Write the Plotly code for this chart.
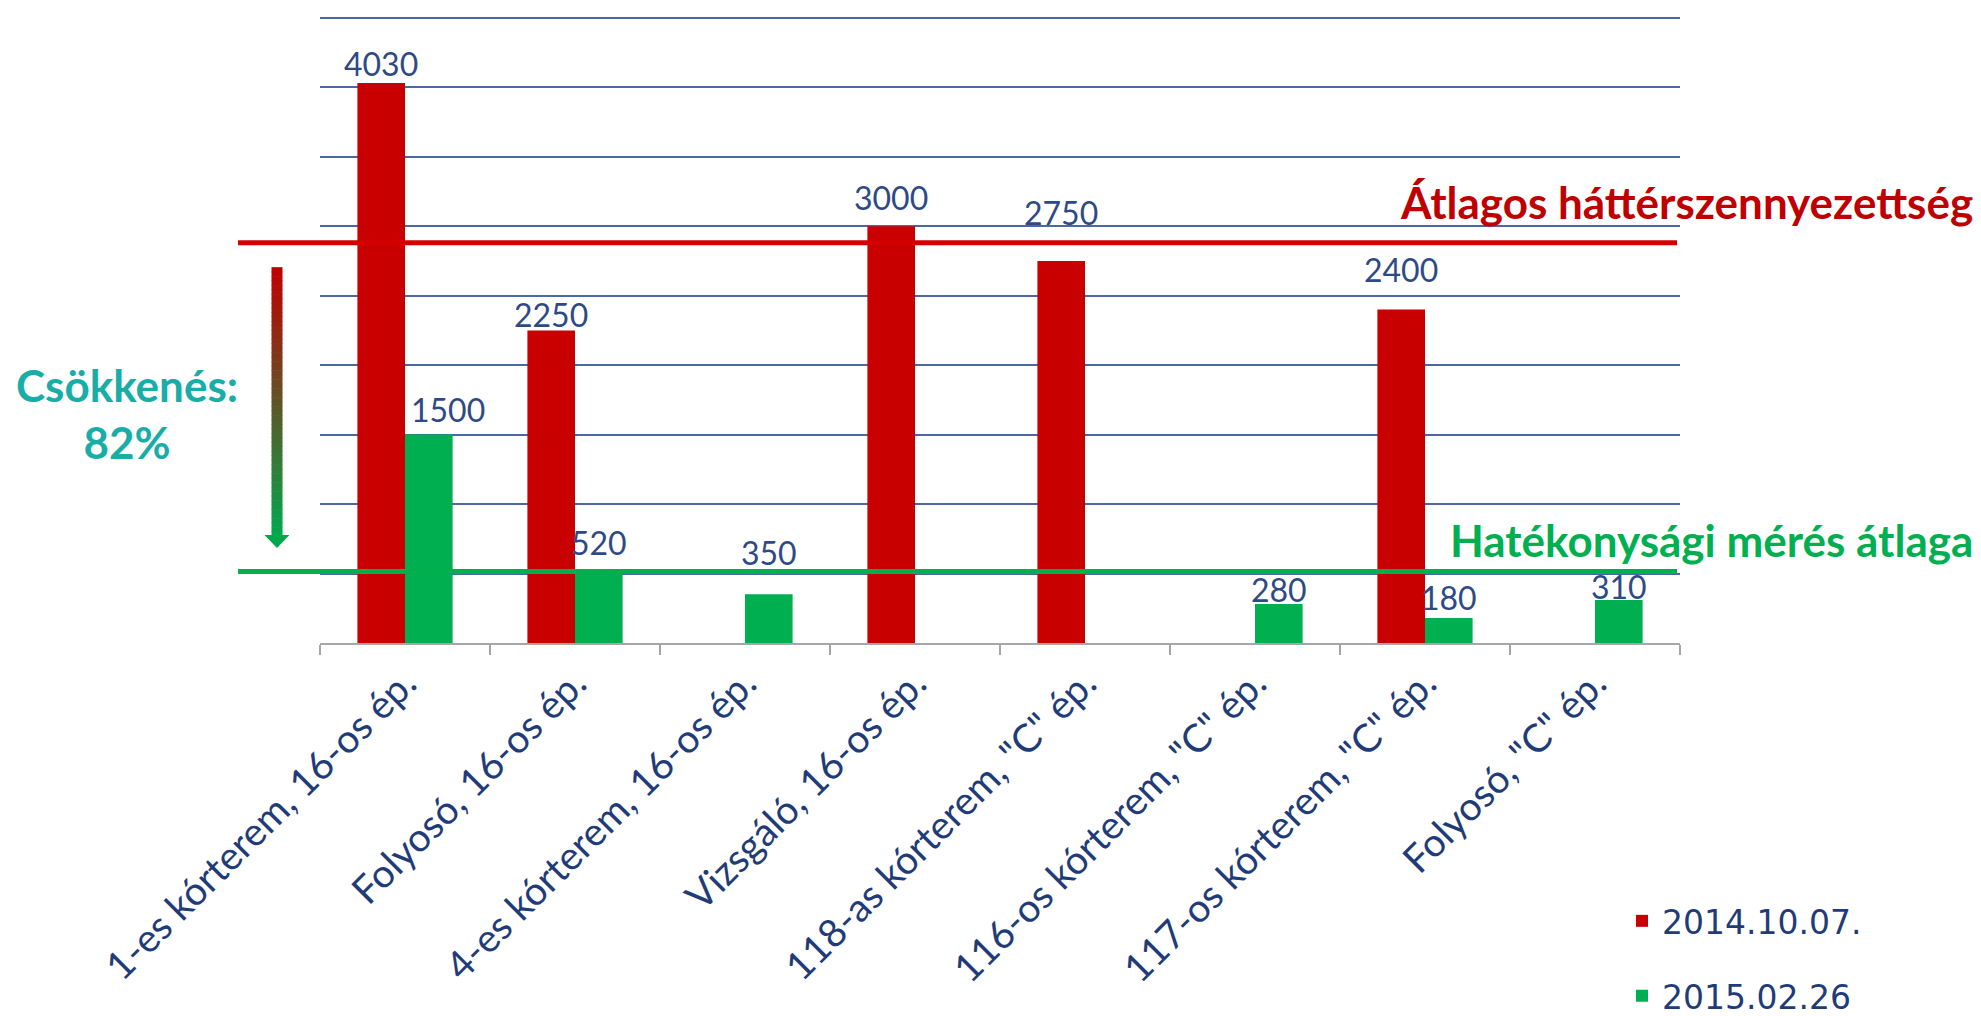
import plotly.graph_objects as go

# ---------------- data ----------------
categories = [
    "1-es kórterem, 16-os ép.",
    "Folyosó, 16-os ép.",
    "4-es kórterem, 16-os ép.",
    "Vizsgáló, 16-os ép.",
    "118-as kórterem, \"C\" ép.",
    "116-os kórterem, \"C\" ép.",
    "117-os kórterem, \"C\" ép.",
    "Folyosó, \"C\" ép.",
]
series1_name = "2014.10.07."
series1_values = [4030, 2250, None, 3000, 2750, None, 2400, None]
series2_name = "2015.02.26"
series2_values = [1500, 520, 350, None, None, 280, 180, 310]

red_avg_value = 2880      # Átlagos háttérszennyezettség
green_avg_value = 515     # Hatékonysági mérés átlaga
red_avg_label = "Átlagos háttérszennyezettség"
green_avg_label = "Hatékonysági mérés átlaga"
decrease_label = "Csökkenés:<br>82%"

y_max = 4500
y_step = 500

# ---------------- styling ----------------
W, H = 1981, 1016
Y_TOP = 4520                           # small headroom so the top gridline is drawn
PB = 643
PT = PB - 625.5 * Y_TOP / y_max        # plot area top so that y_max sits at ~17.5px
PL, PR = 320, 1680

RED = "#C80000"
GREEN = "#00AF50"
TEAL = "#19ADA8"
LABEL_BLUE = "#2E4A86"
CAT_BLUE = "#1F3C78"
GRID_BLUE = "#4A68A4"
AXIS_GRAY = "#A6A6A6"

# manual label placement (pixels above the bar top, extra horizontal shift)
label_dy_1 = [20, 16, 0, 29, 48, 0, 40, 0]
label_dy_2 = [25, 28, 42, 0, 0, 15, 20, 13]
label_dx_2 = [19, 0, 0, 0, 0, 0, 0, 0]
BAR_HALF = 23.8


def px(x):
    return (x - PL) / (PR - PL)


def py(y):
    return (PB - y) / (PB - PT)


fig = go.Figure()
fig.add_trace(go.Bar(
    name=series1_name, x=categories, y=series1_values,
    marker=dict(color=RED, line=dict(width=0)), legendgroup="a",
))
fig.add_trace(go.Bar(
    name=series2_name, x=categories, y=series2_values,
    marker=dict(color=GREEN, line=dict(width=0)), legendgroup="b",
))

annotations = []
for cat, v, dy in zip(categories, series1_values, label_dy_1):
    if v is None:
        continue
    annotations.append(dict(x=cat, y=v, xref="x", yref="y", text=str(v), showarrow=False,
                            xshift=-BAR_HALF, yshift=dy, xanchor="center", yanchor="middle",
                            font=dict(family="Lato", size=32, color=LABEL_BLUE)))
for cat, v, dy, dx in zip(categories, series2_values, label_dy_2, label_dx_2):
    if v is None:
        continue
    annotations.append(dict(x=cat, y=v, xref="x", yref="y", text=str(v), showarrow=False,
                            xshift=BAR_HALF + dx, yshift=dy, xanchor="center", yanchor="middle",
                            font=dict(family="Lato", size=32, color=LABEL_BLUE)))

shapes = []
# average reference lines (drawn on top of bars)
shapes.append(dict(type="line", xref="paper", yref="y",
                   x0=px(238), x1=px(1677), y0=red_avg_value, y1=red_avg_value,
                   line=dict(color="#D40000", width=5), layer="above"))
shapes.append(dict(type="line", xref="paper", yref="y",
                   x0=px(238), x1=px(1677), y0=green_avg_value, y1=green_avg_value,
                   line=dict(color="#00B04C", width=5), layer="above"))

# gradient arrow (red -> green)
top_y, shaft_end, tip_y = 267, 536, 548
ax_c, shaft_w, head_w = 277, 11, 25
n = 60
c0 = (192, 0, 0)
c1 = (0, 168, 76)
for i in range(n):
    t = i / (n - 1)
    col = "rgb(%d,%d,%d)" % tuple(int(round(a + (b - a) * t)) for a, b in zip(c0, c1))
    ya = top_y + (shaft_end - top_y) * i / n
    yb = top_y + (shaft_end - top_y) * (i + 1) / n + 0.6
    shapes.append(dict(type="rect", xref="paper", yref="paper",
                       x0=px(ax_c - shaft_w / 2), x1=px(ax_c + shaft_w / 2),
                       y0=py(yb), y1=py(ya),
                       fillcolor=col, line=dict(width=0), layer="above"))
shapes.append(dict(type="path", xref="paper", yref="paper",
                   path="M %f %f L %f %f L %f %f Z" % (
                       px(ax_c - head_w / 2), py(shaft_end - 1),
                       px(ax_c + head_w / 2), py(shaft_end - 1),
                       px(ax_c), py(tip_y)),
                   fillcolor="rgb(0,168,76)", line=dict(width=0), layer="above"))

annotations += [
    dict(text=red_avg_label, xref="paper", yref="paper",
         x=px(1975), y=py(202), xanchor="right", yanchor="middle",
         showarrow=False, font=dict(family="Lato", size=44, color="#C00000", weight="bold")),
    dict(text=green_avg_label, xref="paper", yref="paper",
         x=px(1975), y=py(540), xanchor="right", yanchor="middle",
         showarrow=False, font=dict(family="Lato", size=44, color="#00B050", weight="bold")),
    dict(text=decrease_label, xref="paper", yref="paper",
         x=px(127), y=py(413), xanchor="center", yanchor="middle",
         showarrow=False, align="center",
         font=dict(family="Lato", size=44, color=TEAL, weight="bold")),
]

fig.update_layout(
    width=W, height=H,
    margin=dict(l=PL, r=W - PR, t=PT, b=H - PB, pad=0, autoexpand=False),
    paper_bgcolor="white", plot_bgcolor="white",
    barmode="group", bargap=0.44, bargroupgap=0,
    showlegend=True,
    legend=dict(x=px(1622), y=py(893), xanchor="left", yanchor="top",
                font=dict(family="DejaVu Sans", size=33, color=CAT_BLUE),
                tracegroupgap=29, traceorder="grouped",
                bgcolor="rgba(0,0,0,0)"),
    shapes=shapes, annotations=annotations,
)
fig.update_xaxes(
    type="category", categoryorder="array", categoryarray=categories,
    tickangle=-45, tickfont=dict(family="Lato", size=39, color=CAT_BLUE),
    showline=True, linecolor=AXIS_GRAY, linewidth=2,
    ticks="outside", tickson="boundaries", ticklen=10, tickcolor=AXIS_GRAY, tickwidth=2,
    showgrid=False, zeroline=False,
)
fig.update_yaxes(
    range=[0, Y_TOP], dtick=y_step, tick0=0,
    showgrid=True, gridcolor=GRID_BLUE, gridwidth=2,
    showticklabels=False, zeroline=False, showline=False, ticks="",
)

fig.write_html("out.html", config={"displayModeBar": False},
               post_script="document.body.style.margin='0';")
